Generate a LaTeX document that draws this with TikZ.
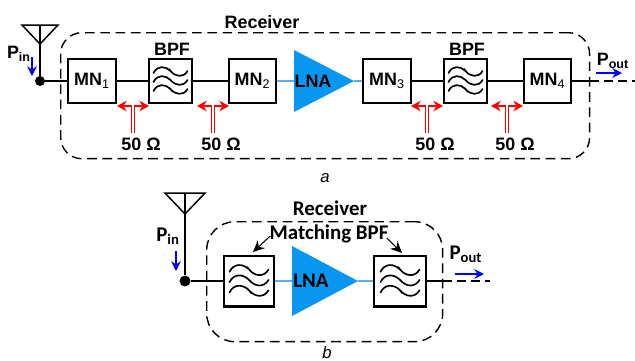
\documentclass[tikz,border=0pt]{standalone}
\usepackage{fontspec}
\setmainfont{Liberation Sans}
\newfontfamily\carlito{Carlito}
\usetikzlibrary{arrows.meta}
\definecolor{lnablue}{RGB}{8,150,240}
\definecolor{wireblue}{RGB}{90,175,235}
\tikzset{
	blockbox/.style = {draw, line width=1.15pt, inner sep=0pt, font=\fontsize{10.2}{12}\bfseries\selectfont},
	lbl/.style = {inner sep=0pt, font=\fontsize{10.2}{12}\bfseries\selectfont},
	lblb/.style = {inner sep=0pt, font=\fontsize{11.9}{13}\carlito\bfseries\selectfont},
	wire/.style = {line width=1.1pt},
	lnawire/.style = {line width=1.1pt, wireblue},
	dashbox/.style = {draw, dash pattern=on 5.5pt off 3.2pt, line width=0.8pt, rounded corners=#1},
	powerarrow/.style = {blue, line width=0.9pt, -{Stealth[length=5.5pt,width=5.5pt]}},
	refarrow/.style = {red, line width=0.75pt, -{Stealth[length=5.5pt,width=6pt]}},
	pic arrow/.style = {line width=0.6pt, -{Stealth[length=6.5pt,width=6pt]}},
	filterwaves/.pic = {
		\foreach \dy in {-9,0,9} {
			\draw[line width=0.95pt, line cap=round] (-17,\dy+1) .. controls (-13,\dy-7) and (-5,\dy-6) .. (0,\dy-1) .. controls (5,\dy+5) and (13,\dy+6) .. (17,\dy-1);
		}
		\draw[line width=0.6pt] (-1.5,-12.5) -- (2,-8);
		\draw[line width=0.6pt] (-1.5,6.5) -- (2,11);
	}
}
\begin{document}
\begin{tikzpicture}[x=0.02cm, y=-0.02cm]
	\useasboundingbox (0,0) rectangle (635,360);
	% a
	\node[dashbox=12pt, minimum width=10.58cm, minimum height=2.52cm, anchor=north west, inner sep=0pt] (rxa) at (60,32) {};
	\node[lbl] (rxatext) at (262,22) {Receiver};
	\coordinate (anta) at (40,44);
	\coordinate (anta1) at (22,25);
	\coordinate (anta2) at (58,25);
	\coordinate (anta3) at (40,25);
	\node[circle, fill, inner sep=0pt, minimum size=0.2cm] (dota) at (40,81) {};
	\draw[line width=0.85pt] (anta1) -- (anta2) -- (anta) -- cycle;
	\draw[line width=1.1pt] (anta3) -- (dota);
	\node[blockbox, minimum width=0.96cm, minimum height=0.88cm] (mn1) at (92,81) {MN\textsubscript{\mdseries 1}};
	\node[blockbox, minimum width=0.86cm, minimum height=0.88cm] (bpf1) at (170.5,81) {};
	\node[blockbox, minimum width=0.94cm, minimum height=0.88cm] (mn2) at (252.5,81) {MN\textsubscript{\mdseries 2}};
	\node[blockbox, minimum width=0.96cm, minimum height=0.88cm] (mn3) at (387,81) {MN\textsubscript{\mdseries 3}};
	\node[blockbox, minimum width=0.86cm, minimum height=0.88cm] (bpf2) at (465.5,81) {};
	\node[blockbox, minimum width=0.95cm, minimum height=0.88cm] (mn4) at (547.5,81) {MN\textsubscript{\mdseries 4}};
	\pic at (bpf1.center) {filterwaves};
	\pic at (bpf2.center) {filterwaves};
	\draw[fill=lnablue, draw=none] (294,50) coordinate (lnaa1) -- (354,81) coordinate (lnaaout) -- (294,112) -- cycle;
	\coordinate (lnaain) at (294,81);
	\node[lbl, black] (lnaa) at (313,81) {LNA};
	\draw[wire] (dota) -- (mn1);
	\draw[wire] (mn1) -- (bpf1);
	\draw[wire] (bpf1) -- (mn2);
	\draw[lnawire] (mn2.east) -- (lnaain);
	\draw[lnawire] (lnaaout) -- (mn3.west);
	\draw[wire] (mn3) -- (bpf2);
	\draw[wire] (bpf2) -- (mn4);
	\coordinate (outa) at (590,81);
	\coordinate (enda) at (635,81);
	\draw[wire] (mn4.east) -- (outa);
	\draw[wire, dash pattern=on 5pt off 3pt] (outa) -- (enda);
	\node[lbl] (bpf1text) at (172,49) {BPF};
	\node[lbl] (bpf2text) at (467,49) {BPF};
	\foreach \x in {133,213,427,507} {
		\draw[refarrow] (\x-1.6,133) -- (\x-1.6,106) -- (\x-16,106);
		\draw[refarrow] (\x+1.6,133) -- (\x+1.6,106) -- (\x+16,106);
		\node[lbl] at (\x+8,144) {50 Ω};
	}
	\node[lbl] (pina) at (19,54) {P\textsubscript{in}};
	\coordinate (pina1) at (32,57);
	\coordinate (pina2) at (32,76);
	\draw[powerarrow] (pina1) -- (pina2);
	\node[lbl] (pouta) at (613,61) {P\textsubscript{out}};
	\coordinate (pouta1) at (596,73);
	\coordinate (pouta2) at (622,73);
	\draw[powerarrow] (pouta1) -- (pouta2);
	\node[font=\fontsize{9.5}{11}\itshape\selectfont, inner sep=0pt] (capa) at (325,178) {a};
	% b
	\node[dashbox=16pt, minimum width=4.72cm, minimum height=2.4cm, anchor=north west, inner sep=0pt] (rxb) at (206,221) {};
	\node[lblb] (rxbtext) at (330,208) {Receiver};
	\coordinate (antb) at (185,214);
	\coordinate (antb1) at (165,193);
	\coordinate (antb2) at (205,193);
	\coordinate (antb3) at (185,193);
	\node[circle, fill, inner sep=0pt, minimum size=0.22cm] (dotb) at (185,281) {};
	\draw[line width=0.85pt] (antb1) -- (antb2) -- (antb) -- cycle;
	\draw[line width=1.1pt] (antb3) -- (dotb);
	\node[blockbox, minimum width=1cm, minimum height=1.02cm] (bpf3) at (249,281) {};
	\node[blockbox, minimum width=1.04cm, minimum height=1.02cm] (bpf4) at (400,281) {};
	\pic[scale=1.15] at (bpf3.center) {filterwaves};
	\pic[scale=1.15] at (bpf4.center) {filterwaves};
	\draw[fill=lnablue, draw=none] (292,246) -- (358,281) coordinate (lnabout) -- (292,316) -- cycle;
	\coordinate (lnabin) at (292,281);
	\node[lblb, black] (lnab) at (311,281) {LNA};
	\draw[wire] (dotb) -- (bpf3);
	\draw[lnawire] (bpf3.east) -- (lnabin);
	\draw[lnawire] (lnabout) -- (bpf4.west);
	\coordinate (outb) at (443,281);
	\coordinate (endb) at (490,281);
	\draw[wire] (bpf4.east) -- (outb);
	\draw[wire, dash pattern=on 5pt off 3pt] (outb) -- (endb);
	\node[lblb] (mbpf) at (329,234) {Matching BPF};
	\draw[pic arrow] (mbpf.west) ++(1,2) coordinate (mbpf1) -- (253,252);
	\draw[pic arrow] (mbpf.east) ++(-2,4) coordinate (mbpf2) -- (402,253);
	\node[lblb] (pinb) at (168,236) {P\textsubscript{in}};
	\coordinate (pinb1) at (176,251);
	\coordinate (pinb2) at (176,271);
	\draw[powerarrow] (pinb1) -- (pinb2);
	\node[lblb] (poutb) at (466,254) {P\textsubscript{out}};
	\coordinate (poutb1) at (455,274);
	\coordinate (poutb2) at (484,274);
	\draw[powerarrow] (poutb1) -- (poutb2);
	\node[font=\fontsize{9.5}{11}\itshape\selectfont, inner sep=0pt] (capb) at (327,352.5) {b};
\end{tikzpicture}
\end{document}
